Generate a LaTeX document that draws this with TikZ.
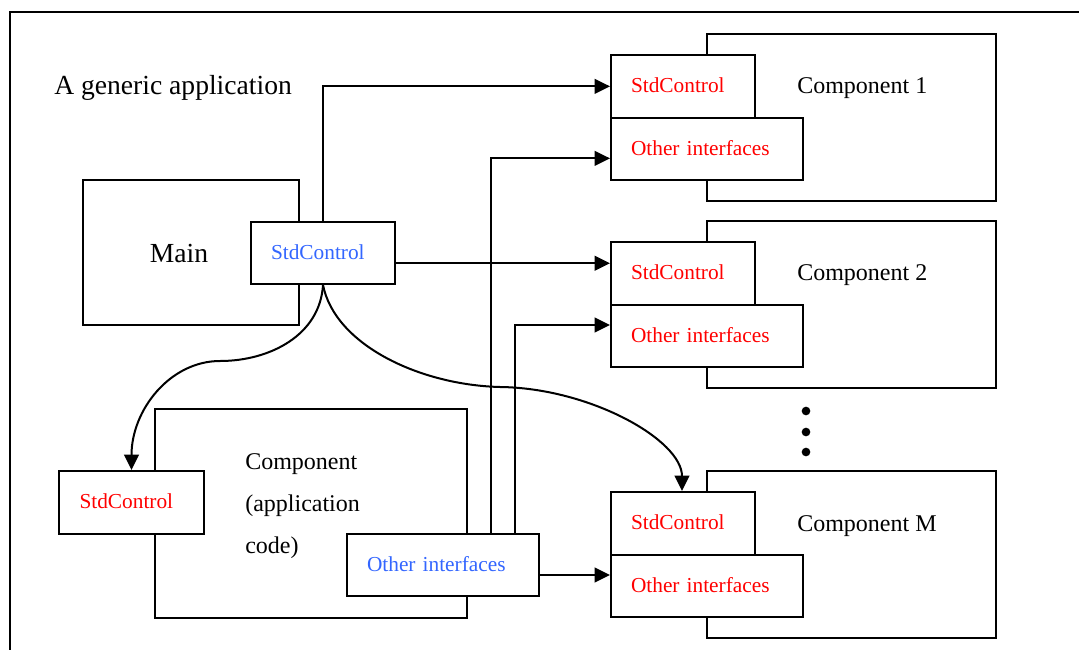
\documentclass[tikz,border=0pt]{standalone}
\usepackage{fontspec}
\setmainfont{Liberation Serif}
\usetikzlibrary{arrows.meta}
\definecolor{portred}{RGB}{255,0,0}
\definecolor{portblue}{RGB}{51,102,255}
\begin{document}
\begin{tikzpicture}[x=0.75pt,y=-0.75pt,
  lw/.style={line width=1.5pt},
  frame/.style={draw, fill=white, lw, inner sep=0pt, anchor=north west},
  port/.style={frame, inner xsep=15pt, inner ysep=0pt, align=left,
    font=\fontsize{16}{19}\selectfont, text height=12.8pt, text depth=3.2pt},
  stdport/.style={port, minimum width=108pt, minimum height=47pt, text width=78pt},
  othport/.style={port, minimum width=144pt, minimum height=46.5pt, text width=114pt},
  compbox/.style={frame, minimum width=216.75pt, minimum height=125.25pt},
  complabel/.style={anchor=west, inner sep=0pt, font=\fontsize{18}{22}\selectfont},
  dot/.style={circle, fill=black, inner sep=0pt, minimum size=6.5pt},
  arr/.style={lw, -{Triangle[length=11.5pt,width=11pt]}}]
\useasboundingbox (0,0) rectangle (1079,650);

% surrounding frame
\draw[lw] (10,650) -- (10,12) -- (1079,12);

\node[anchor=west, inner sep=0pt, font=\fontsize{20.7}{24}\selectfont] (title) at (54,88) {A generic application};

% component 1
\node[compbox] (comp1) at (706,33) {};
\node[stdport, text=portred] (std1) at (610,54) {StdControl};
\node[othport, text=portred] (oth1) at (610,117) {Other interfaces};
\node[complabel] (c1txt) at (797,88) {Component 1};

% component 2
\node[compbox] (comp2) at (706,220) {};
\node[stdport, text=portred] (std2) at (610,241) {StdControl};
\node[othport, text=portred] (oth2) at (610,304) {Other interfaces};
\node[complabel] (c2txt) at (797,275) {Component 2};

% ellipsis between the components
\node[dot] (d1) at (806,411) {};
\node[dot] (d2) at (806,432) {};
\node[dot] (d3) at (806,452) {};

% component M
\node[compbox] (compM) at (706,470) {};
\node[stdport, text=portred] (stdM) at (610,491) {StdControl};
\node[othport, text=portred] (othM) at (610,554) {Other interfaces};
\node[complabel] (cMtxt) at (797,526) {Component M};

% Main
\node[frame, minimum width=162pt, minimum height=108.75pt] (main) at (82,179) {};
\node[anchor=center, inner sep=0pt, font=\fontsize{20.7}{24}\selectfont] (maintxt) at (179,253) {Main};
\node[stdport, text=portblue, minimum height=46.5pt] (mstd) at (250,221) {StdControl};

% application component
\node[frame, minimum width=234pt, minimum height=156.75pt] (app) at (154,408) {};
\node[stdport, text=portred, minimum width=108.75pt] (lstd) at (58,470) {StdControl};
\node[othport, text=portblue] (bo) at (346,533) {Other interfaces};
\node[anchor=west, inner sep=0pt, align=left, font=\fontsize{18}{31.3}\selectfont] (apptxt) at (245,506) {Component\\(application\\code)};

% wiring
\draw[arr] (mstd.north) |- (std1.west);
\draw[arr] ([yshift=-7.7pt]mstd.east) -- ([yshift=-7.7pt]mstd.east -| std2.west);
\draw[arr] ([xshift=36pt]bo.north) |- ([yshift=-7pt]oth1.west);
\draw[arr] ([xshift=54pt]bo.north) |- ([yshift=8.25pt]oth2.west);
\draw[arr] ([yshift=-7.5pt]bo.east) -- ([yshift=-7.5pt]bo.east -| othM.west);
\draw[arr] (mstd.south) .. controls (320,335) and (270,361) .. (220,361)
  .. controls (170,361) and (lstd.north |- 0,410) .. (lstd.north);
\draw[arr] (mstd.south) .. controls (335,345) and (420,385) .. (500,387)
  .. controls (590,388) and (682,440) .. (stdM.north -| 682,0);
\end{tikzpicture}
\end{document}
